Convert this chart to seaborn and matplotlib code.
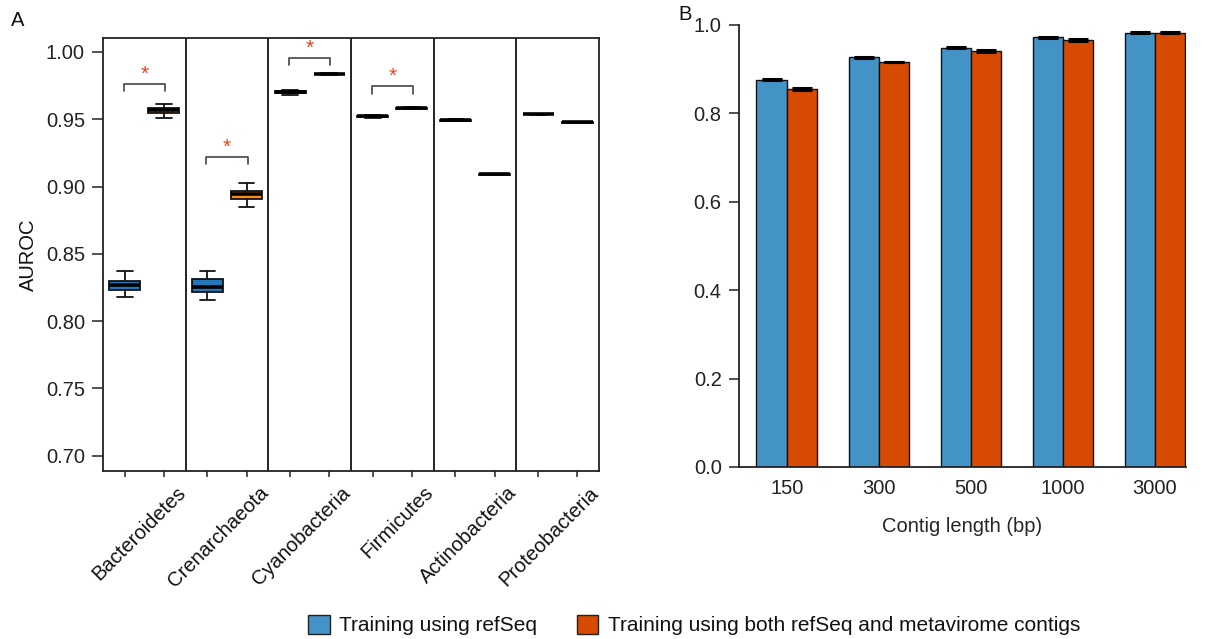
import numpy as np
import pandas as pd
import matplotlib
matplotlib.use("Agg")
import matplotlib.pyplot as plt
import matplotlib.transforms as mtransforms
from matplotlib.patches import Patch
import seaborn as sns

# ---------------- data ----------------
phyla = ["Bacteroidetes", "Crenarchaeota", "Cyanobacteria",
         "Firmicutes", "Actinobacteria", "Proteobacteria"]
groups = ["Training using refSeq",
          "Training using both refSeq and metavirome contigs"]

# box summaries per phylum: [min, q1, median, q3, max]
refseq_box = [
    [0.818, 0.823, 0.827, 0.830, 0.837],
    [0.816, 0.822, 0.825, 0.831, 0.837],
    [0.968, 0.9695, 0.9702, 0.9712, 0.972],
    [0.951, 0.9518, 0.9523, 0.9528, 0.9535],
    [0.9488, 0.9490, 0.9493, 0.9496, 0.9505],
    [0.9535, 0.9536, 0.9538, 0.9540, 0.9541],
]
both_box = [
    [0.951, 0.9550, 0.9568, 0.9585, 0.961],
    [0.885, 0.8910, 0.8942, 0.8970, 0.903],
    [0.9830, 0.9833, 0.9836, 0.9839, 0.9842],
    [0.9575, 0.9579, 0.9583, 0.9587, 0.9590],
    [0.9087, 0.9089, 0.9091, 0.9093, 0.9095],
    [0.9474, 0.9476, 0.9478, 0.9480, 0.9482],
]
# significance brackets: phylum index and bracket top
sig_phylum = [0, 1, 2, 3]
sig_top = [0.9760, 0.9218, 0.9955, 0.9744]

lengths = ["150", "300", "500", "1000", "3000"]
refseq_auc = [0.876, 0.927, 0.949, 0.972, 0.983]
both_auc = [0.856, 0.916, 0.941, 0.966, 0.983]
refseq_err = [0.001, 0.001, 0.001, 0.001, 0.001]
both_err = [0.002, 0.0005, 0.002, 0.002, 0.001]

# ---------------- style ----------------
sns.set_style("ticks")
plt.rcParams["font.family"] = ["Liberation Sans", "DejaVu Sans"]
plt.rcParams["axes.edgecolor"] = "#222222"
plt.rcParams["xtick.color"] = "#222222"
plt.rcParams["ytick.color"] = "#222222"
plt.rcParams["text.color"] = "#111111"

box_colors = ["#2277BB", "#FF8A10"]
bar_colors = ["#4393C6", "#D64A02"]
FS = 14.5

fig = plt.figure(figsize=(12.05, 6.39), dpi=100)
W, H = 1205, 639
axA = fig.add_axes([103 / W, 1 - 471 / H, (599 - 103) / W, (471 - 38) / H])
axB = fig.add_axes([739 / W, 1 - 467 / H, (1186 - 739) / W, (467 - 25) / H])

# ---------------- panel A ----------------
rows = []
for p, rb, bb in zip(phyla, refseq_box, both_box):
    for v in rb:
        rows.append((p, groups[0], v))
    for v in bb:
        rows.append((p, groups[1], v))
dfA = pd.DataFrame(rows, columns=["phylum", "group", "auroc"])

sns.boxplot(data=dfA, x="phylum", y="auroc", hue="group", order=phyla,
            hue_order=groups, palette=box_colors, saturation=1,
            whis=(0, 100), width=0.945, gap=0.2, linewidth=1.3,
            linecolor="#111111",
            medianprops=dict(linewidth=2.6, color="black"),
            showfliers=False, legend=False, ax=axA)

axA.set_xlim(-0.5, len(phyla) - 0.5)
axA.set_ylim(0.6886, 1.0104)
yt = [0.70, 0.75, 0.80, 0.85, 0.90, 0.95, 1.00]
axA.set_yticks(yt)
axA.set_yticklabels([f"{t:.2f}" for t in yt])
for s in axA.spines.values():
    s.set_visible(True)
    s.set_linewidth(1.3)
for i in range(len(phyla) - 1):
    axA.axvline(i + 0.5, color="#111111", lw=1.3)

off = 0.236
xt = []
for i in range(len(phyla)):
    xt += [i - off, i + off]
axA.set_xticks(xt)
axA.set_xticklabels([""] * len(xt))
axA.tick_params(axis="x", length=4, width=1.1, direction="out")
axA.tick_params(axis="y", length=8, width=1.1, pad=5, labelsize=FS)
axA.set_xlabel("")
axA.set_ylabel("")

trA = mtransforms.blended_transform_factory(axA.transData, axA.transAxes)
for i, p in enumerate(phyla):
    axA.text(i + 0.38, -0.028, p, transform=trA, rotation=45,
             rotation_mode="anchor", ha="right", va="top", fontsize=FS)

for i, top in zip(sig_phylum, sig_top):
    x0, x1 = i - 0.25, i + 0.25
    axA.plot([x0, x0, x1, x1], [top - 0.0053, top, top, top - 0.0053],
             color="#444444", lw=1.2, clip_on=False)
    axA.text(i, top + 0.0075, "*", color="#F0401E", ha="center",
             va="center", fontsize=15)

fig.text(28 / W, 1 - 255 / H, "AUROC", rotation=90, ha="center",
         va="center", fontsize=FS)

# ---------------- panel B ----------------
dfB = pd.DataFrame({
    "length": lengths * 2,
    "group": [groups[0]] * len(lengths) + [groups[1]] * len(lengths),
    "auroc": refseq_auc + both_auc,
})
sns.barplot(data=dfB, x="length", y="auroc", hue="group", order=lengths,
            hue_order=groups, palette=bar_colors, saturation=1, width=0.66,
            edgecolor="#111111", linewidth=1.0, errorbar=None,
            legend=False, ax=axB)

for cont, errs in zip(axB.containers, [refseq_err, both_err]):
    xs = [b.get_x() + b.get_width() / 2 for b in cont]
    hs = [b.get_height() for b in cont]
    axB.errorbar(xs, hs, yerr=errs, fmt="none", ecolor="black",
                 elinewidth=1.5, capsize=7, capthick=2.2)

axB.set_xlim(-0.52, 4.337)
axB.set_ylim(0, 1.0)
ytb = [0.0, 0.2, 0.4, 0.6, 0.8, 1.0]
axB.set_yticks(ytb)
axB.set_yticklabels([f"{t:.1f}" for t in ytb])
sns.despine(ax=axB)
axB.spines["left"].set_linewidth(1.3)
axB.spines["bottom"].set_linewidth(1.3)
axB.tick_params(axis="y", length=7.5, width=1.1, pad=5, labelsize=FS)
axB.tick_params(axis="x", length=0, pad=9, labelsize=FS)
axB.set_ylabel("")
axB.set_xlabel("Contig length (bp)", fontsize=FS, labelpad=13)

# ---------------- labels & legend ----------------
fig.text(18 / W, 1 - 20 / H, "A", ha="center", va="center", fontsize=FS)
fig.text(685 / W, 1 - 15 / H, "B", ha="center", va="center", fontsize=FS)

handles = [Patch(facecolor=c, edgecolor="#222222", linewidth=1.0)
           for c in bar_colors]
fig.legend(handles, groups, loc="center", bbox_to_anchor=(694 / W, 1 - 625 / H),
           ncol=2, frameon=False, handlelength=1.05, handleheight=1.05,
           handletextpad=0.45, columnspacing=1.9, fontsize=15)

fig.savefig("out.png", dpi=100)
